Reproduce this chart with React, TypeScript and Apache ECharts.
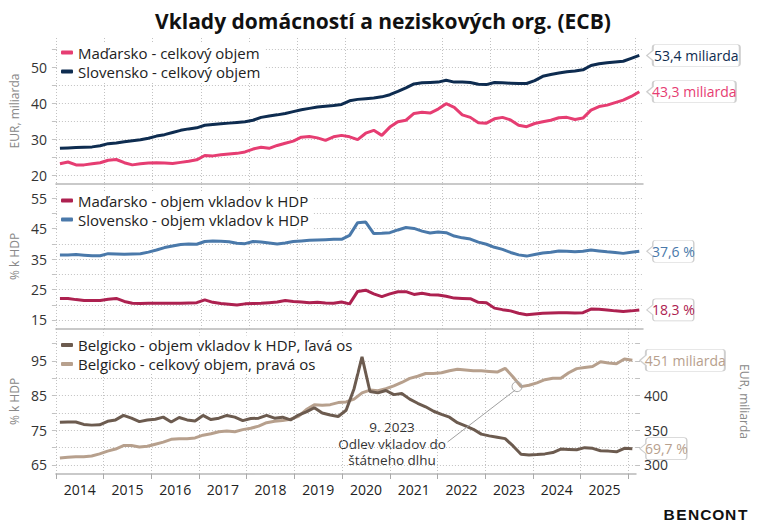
import React, { useEffect, useRef } from 'react';
import * as echarts from 'echarts';

// Bimonthly observations from Feb 2014 to Feb 2026 (Feb, Apr, Jun, Aug, Oct, Dec)
const START = 2014 + 1 / 12;
const STEP = 1 / 6;

// Panel 1 – EUR bn
const skTotal = [
  27.6, 27.7, 27.8, 27.9, 28.0, 28.3,
  28.9, 29.1, 29.4, 29.7, 30.0, 30.4,
  31.0, 31.4, 32.0, 32.6, 33.0, 33.3,
  34.0, 34.2, 34.4, 34.6, 34.8, 35.0,
  35.4, 36.2, 36.6, 36.9, 37.3, 37.8,
  38.3, 38.7, 39.1, 39.3, 39.5, 39.8,
  40.8, 41.2, 41.4, 41.6, 41.9, 42.5,
  43.4, 44.4, 45.5, 45.8, 45.9, 46.0,
  46.5, 46.0, 46.0, 45.9, 45.4, 45.3,
  45.9, 45.8, 45.7, 45.6, 45.6, 46.4,
  47.6, 48.1, 48.5, 48.9, 49.1, 49.4,
  50.6, 51.1, 51.4, 51.6, 51.8, 52.6,
  53.4,
];
const huTotal = [
  23.3, 23.8, 23.0, 23.0, 23.3, 23.6,
  24.3, 24.5, 23.6, 23.0, 23.3, 23.5,
  23.6, 23.5, 23.4, 23.7, 24.0, 24.4,
  25.6, 25.5, 25.8, 26.0, 26.2, 26.6,
  27.4, 27.9, 27.6, 28.4, 29.0, 29.6,
  30.7, 30.9, 30.5, 29.8, 30.8, 31.2,
  30.8, 30.0, 31.8, 32.6, 31.2, 33.5,
  35.0, 35.4, 37.3, 37.6, 37.4, 38.5,
  40.0, 39.0, 36.9, 36.2, 34.7, 34.6,
  35.8, 36.2, 35.5, 34.0, 33.6, 34.5,
  35.0, 35.4, 36.1, 36.2, 35.6, 36.0,
  38.2, 39.2, 39.6, 40.3, 41.0, 42.0,
  43.3,
];

// Panel 2 – % of GDP
const skGdp = [
  36.4, 36.4, 36.5, 36.3, 36.1, 36.1,
  36.8, 36.7, 36.6, 36.7, 36.8, 37.3,
  38.0, 38.8, 39.3, 39.8, 40.0, 39.9,
  40.8, 41.0, 40.9, 40.7, 40.2, 40.1,
  40.8, 40.6, 40.3, 40.0, 40.3, 40.8,
  41.0, 41.2, 41.3, 41.4, 41.5, 41.5,
  42.8, 47.0, 47.2, 43.4, 43.5, 43.7,
  44.6, 45.4, 45.1, 44.2, 43.6, 43.9,
  43.7, 42.6, 42.0, 41.6, 40.6, 39.9,
  38.9, 38.2, 37.2, 36.4, 36.0, 36.5,
  37.0, 37.3, 37.7, 37.6, 37.4, 37.6,
  38.0, 37.7, 37.4, 37.2, 36.9, 37.3,
  37.6,
];
const huGdp = [
  22.1, 22.1, 21.7, 21.4, 21.4, 21.4,
  21.8, 22.1, 21.1, 20.5, 20.4, 20.5,
  20.5, 20.5, 20.5, 20.5, 20.6, 20.7,
  21.6, 20.8, 20.4, 20.2, 19.9, 20.3,
  20.4, 20.5, 20.7, 20.9, 21.4, 21.1,
  20.9, 20.7, 20.8, 20.6, 20.5, 20.9,
  20.3, 24.4, 24.8, 23.6, 22.7, 23.6,
  24.3, 24.3, 23.4, 23.8, 23.3, 23.2,
  22.8, 22.2, 22.1, 22.0, 20.8, 20.7,
  18.9, 18.4, 18.0, 17.2, 16.7, 17.0,
  17.2, 17.3, 17.4, 17.4, 17.3, 17.4,
  18.6, 18.5, 18.3, 18.0, 17.8, 18.0,
  18.3,
];

// Panel 3 – Belgium: % of GDP (left) and EUR bn (right)
const beGdp = [
  77.3, 77.4, 77.4, 76.7, 76.5, 76.6,
  77.6, 78.0, 79.3, 78.5, 77.5, 78.0,
  78.2, 78.8, 77.4, 78.7, 78.0, 77.7,
  79.3, 78.1, 78.5, 79.3, 78.8, 77.8,
  78.4, 78.5, 79.3, 78.5, 78.8, 78.0,
  79.4, 80.3, 81.5, 80.0, 79.4, 79.0,
  80.8, 87.0, 96.2, 86.2, 85.8, 86.5,
  85.3, 85.6, 84.0, 82.8, 81.8, 80.5,
  79.6, 78.8, 77.2, 76.3, 75.3, 73.9,
  73.4, 73.0, 72.6, 70.5, 68.1, 67.9,
  68.0, 68.2, 68.6, 69.6, 69.5, 69.4,
  70.0, 69.8, 69.1, 69.0, 68.8, 69.8,
  69.7,
];
const beTotal = [
  310, 311, 312, 312, 313, 316,
  320, 323, 328, 328, 326, 327,
  330, 333, 337, 338, 338, 339,
  343, 345, 348, 349, 348, 351,
  353, 356, 361, 363, 364, 366,
  370, 380, 387, 386, 387, 390,
  391, 395, 404, 408, 407, 410,
  414, 419, 425, 428, 432, 432,
  433, 436, 438, 437, 436, 436,
  435, 434, 439.5, 427, 413, 415,
  418.5, 423, 425, 425, 433, 439,
  440.5, 442, 449, 447, 446, 453,
  451,
];

// Axis ticks / labels
const yearTicks = [2014, 2015, 2016, 2017, 2018, 2019, 2020, 2021, 2022, 2023, 2024, 2025, 2026];
const yearLabels = [2014, 2015, 2016, 2017, 2018, 2019, 2020, 2021, 2022, 2023, 2024, 2025];
const p1Grid = [20, 25, 30, 35, 40, 45, 50, 55];
const p1Labels = [20, 30, 40, 50];
const p2Grid = [15, 20, 25, 30, 35, 40, 45, 50, 55];
const p2Labels = [15, 25, 35, 45, 55];
const p3Grid = [65, 70, 75, 80, 85, 90, 95, 100];
const p3Labels = [65, 75, 85, 95];
const p3RightTicks = [300, 325, 350, 375, 400, 425, 450, 475];
const p3RightLabels = [300, 350, 400];

// Annotation: Sep 2023
const annotT = 2023 + 8 / 12;
const annotV = 413;

const FONT = '"Open Sans", "Noto Sans", sans-serif';

const C = {
  huTotal: '#e63d72',
  skTotal: '#0e2c50',
  huGdp: '#ad2150',
  skGdp: '#4a79aa',
  beGdp: '#6c5b4f',
  beTotal: '#b7a08d',
};

const toPairs = (vals: number[]) => vals.map((v, i) => [START + i * STEP, v]);
const lastPair = (vals: number[]) => [START + (vals.length - 1) * STEP, vals[vals.length - 1]];
const fmt = (v: number, d: number) => v.toFixed(d).replace('.', ',');

function tagPath(w: number, h: number) {
  const a = 6;
  const r = 3;
  const m = h / 2;
  return `path://M0,${m}L${a},${m - 5}L${a},${r}Q${a},0,${a + r},0L${w - r},0Q${w},0,${w},${r}L${w},${h - r}Q${w},${h},${w - r},${h}L${a + r},${h}Q${a},${h},${a},${h - r}L${a},${m + 5}Z`;
}

function tagItem(vals: number[], text: string, color: string, w: number) {
  const h = 22;
  return {
    coord: lastPair(vals),
    symbol: tagPath(w, h),
    symbolSize: [w, h],
    symbolOffset: [7.5 + w / 2, 0],
    itemStyle: { color: '#ffffff', borderColor: '#cfcfcf', borderWidth: 1 },
    label: {
      show: true,
      position: 'inside',
      formatter: text,
      color,
      fontSize: 14,
      fontFamily: FONT,
      offset: [3, 0],
    },
  };
}

function lineSeries(name: string, vals: number[], color: string, xi: number, yi: number, marks: any[], extra: any = {}) {
  return {
    name,
    type: 'line',
    xAxisIndex: xi,
    yAxisIndex: yi,
    data: toPairs(vals),
    showSymbol: false,
    symbol: 'none',
    lineStyle: { width: 3, color },
    itemStyle: { color },
    emphasis: { disabled: true },
    markPoint: { silent: true, animation: false, data: marks },
    ...extra,
  };
}

const N = {
  huTotal: 'Maďarsko - celkový objem',
  skTotal: 'Slovensko - celkový objem',
  huGdp: 'Maďarsko - objem vkladov k HDP',
  skGdp: 'Slovensko - objem vkladov k HDP',
  beGdp: 'Belgicko - objem vkladov k HDP, ľavá os',
  beTotal: 'Belgicko - celkový objem, pravá os',
};

const gridLine = { show: true, lineStyle: { type: [1, 2], color: '#c2c2c2', width: 1 } };
const sepLine = { show: true, onZero: false, lineStyle: { color: '#b8b8b8', width: 1.5 } };

function xAxis(gi: number, bottom: boolean) {
  return {
    type: 'value',
    gridIndex: gi,
    min: 2014,
    max: 2026.16,
    axisLine: sepLine,
    axisTick: { show: bottom, length: 5, customValues: yearTicks, lineStyle: { color: '#aaaaaa' } },
    axisLabel: bottom
      ? {
          show: true,
          customValues: yearLabels.map((y) => y + 0.5),
          formatter: (v: number) => String(Math.floor(v)),
          fontSize: 14,
          color: '#222',
          fontFamily: FONT,
          margin: 8,
        }
      : { show: false },
    splitLine: gridLine,
  };
}

function yAxis(gi: number, min: number, max: number, ticks: number[], labels: number[], name: string) {
  return {
    type: 'value',
    gridIndex: gi,
    min,
    max,
    axisLine: { show: false },
    axisTick: { show: true, length: 4, customValues: ticks, lineStyle: { color: '#c2c2c2' } },
    axisLabel: { customValues: labels, fontSize: 14, color: '#333', fontFamily: FONT, margin: 9 },
    splitLine: gridLine,
    name,
    nameLocation: 'middle',
    nameGap: 26,
    nameTextStyle: { fontSize: 12, color: '#888', fontFamily: FONT },
  };
}

function legend(top: number, names: string[]) {
  return {
    show: true,
    orient: 'vertical',
    left: 57,
    top,
    data: names,
    icon: 'roundRect',
    itemWidth: 12,
    itemHeight: 4,
    itemGap: 4,
    padding: [2, 4, 2, 4],
    backgroundColor: '#ffffff',
    selectedMode: false,
    textStyle: { fontSize: 15, color: '#222', fontFamily: FONT },
  };
}

const LOGO = 'BENCONT';

export default function App() {
  const ref = useRef<HTMLDivElement>(null);

  useEffect(() => {
    if (!ref.current) return;
    const chart = echarts.init(ref.current, null, { renderer: 'svg', width: 758, height: 527 });

    const logoLetters = LOGO.split('').map((ch, i) => ({
      type: 'text',
      x: 669 + i * 12.3,
      y: 514,
      style: {
        text: ch,
        fontSize: 15.5,
        fontWeight: 'bold',
        fontFamily: '"Liberation Sans", Arial, sans-serif',
        fill: '#111',
        align: 'center',
        verticalAlign: 'middle',
        textAlign: 'center',
        textVerticalAlign: 'middle',
      },
    }));

    const option: any = {
      animation: false,
      backgroundColor: '#ffffff',
      textStyle: { fontFamily: FONT },
      grid: [
        { left: 54, width: 589, top: 38, height: 146 },
        { left: 54, width: 589, top: 184, height: 145 },
        { left: 54, width: 589, top: 329, height: 145 },
      ],
      xAxis: [xAxis(0, false), xAxis(1, false), xAxis(2, true)],
      yAxis: [
        yAxis(0, 17.69, 58.25, p1Grid, p1Labels, 'EUR, miliarda'),
        yAxis(1, 12.04, 59.7, p2Grid, p2Labels, '% k HDP'),
        yAxis(2, 62.4, 104.23, p3Grid, p3Labels, '% k HDP'),
        {
          type: 'value',
          gridIndex: 2,
          position: 'right',
          min: 287,
          max: 496.15,
          axisLine: { show: false },
          axisTick: { show: true, length: 4, customValues: p3RightTicks, lineStyle: { color: '#c2c2c2' } },
          axisLabel: { customValues: p3RightLabels, fontSize: 14, color: '#333', fontFamily: FONT, margin: 8 },
          splitLine: { show: false },
          name: 'EUR, miliarda',
          nameLocation: 'middle',
          nameRotate: -90,
          nameGap: 102,
          nameTextStyle: { fontSize: 12, color: '#888', fontFamily: FONT },
        },
      ],
      legend: [
        legend(43, [N.huTotal, N.skTotal]),
        legend(191, [N.huGdp, N.skGdp]),
        legend(335.5, [N.beGdp, N.beTotal]),
      ],
      series: [
        lineSeries(N.huTotal, huTotal, C.huTotal, 0, 0, [
          tagItem(huTotal, fmt(huTotal[huTotal.length - 1], 1) + ' miliarda', C.huTotal, 89),
        ]),
        lineSeries(N.skTotal, skTotal, C.skTotal, 0, 0, [
          tagItem(skTotal, fmt(skTotal[skTotal.length - 1], 1) + ' miliarda', C.skTotal, 93),
        ]),
        lineSeries(N.huGdp, huGdp, C.huGdp, 1, 1, [
          tagItem(huGdp, fmt(huGdp[huGdp.length - 1], 1) + ' %', C.huGdp, 47),
        ]),
        lineSeries(N.skGdp, skGdp, C.skGdp, 1, 1, [
          tagItem(skGdp, fmt(skGdp[skGdp.length - 1], 1) + ' %', C.skGdp, 47),
        ]),
        lineSeries(
          N.beTotal,
          beTotal,
          C.beTotal,
          2,
          3,
          [
            tagItem(beTotal, fmt(beTotal[beTotal.length - 1], 0) + ' miliarda', C.beTotal, 85),
            {
              coord: [annotT, annotV],
              symbol: 'circle',
              symbolSize: 10,
              itemStyle: { color: 'rgba(255,255,255,0)', borderColor: '#a8a8a8', borderWidth: 1 },
              label: { show: false },
            },
          ],
          {
            markLine: {
              silent: true,
              animation: false,
              symbol: ['none', 'none'],
              label: { show: false },
              lineStyle: { color: '#a0a0a0', width: 1, type: 'solid' },
              data: [[{ coord: [2022.21, 333.2] }, { coord: [2023.63, 408.2] }]],
            },
          }
        ),
        lineSeries(N.beGdp, beGdp, C.beGdp, 2, 2, [
          tagItem(beGdp, fmt(beGdp[beGdp.length - 1], 1) + ' %', C.beTotal, 47),
        ]),
      ],
      graphic: [
        {
          type: 'text',
          x: 383,
          y: 21,
          style: {
            text: 'Vklady domácností a neziskových org. (ECB)',
            fontSize: 21,
            fontWeight: 'bold',
            fontFamily: FONT,
            fill: '#111',
            align: 'center',
            verticalAlign: 'middle',
            textAlign: 'center',
            textVerticalAlign: 'middle',
          },
        },
        {
          type: 'text',
          x: 392,
          y: 419,
          style: {
            text: '9. 2023\nOdlev vkladov do\nštátneho dlhu',
            fontSize: 13.5,
            fontFamily: FONT,
            fill: '#333',
            lineHeight: 16.5,
            align: 'center',
            verticalAlign: 'top',
            textAlign: 'center',
            textVerticalAlign: 'top',
          },
        },
        ...logoLetters,
      ],
    };

    chart.setOption(option);
    return () => chart.dispose();
  }, []);

  return (
    <div
      ref={ref}
      style={{ position: 'absolute', left: 0, top: 0, width: 758, height: 527, background: '#fff' }}
    />
  );
}
